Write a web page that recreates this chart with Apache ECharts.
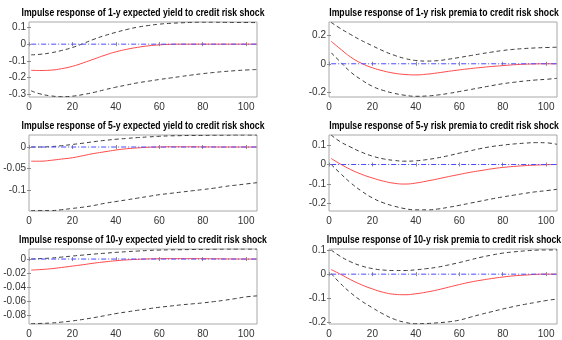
<!DOCTYPE html>
<html>
<head>
<meta charset="utf-8">
<script src="https://cdn.jsdelivr.net/npm/echarts@6/dist/echarts.min.js"></script>
<style>
html, body { margin: 0; padding: 0; background: #fff; }
#chart { width: 562px; height: 340px; }
</style>
</head>
<body>
<div id="chart"></div>
<script>
// Forecast horizon (periods after the shock)
const horizon = [1, 5, 10, 15, 20, 25, 30, 35, 40, 45, 50, 55, 60, 65, 70, 75, 80, 85, 90, 95, 100, 105];

const titles = [
  'Impulse response of 1-y expected yield to credit risk shock',
  'Impulse response of 1-y risk premia to credit risk shock',
  'Impulse response of 5-y expected yield to credit risk shock',
  'Impulse response of 5-y risk premia to credit risk shock',
  'Impulse response of 10-y expected yield to credit risk shock',
  'Impulse response of 10-y risk premia to credit risk shock'
];

const xTicks = [0, 20, 40, 60, 80, 100];

// 1-y expected yield
const ey1Irf   = [-0.157, -0.158, -0.156, -0.147, -0.133, -0.112, -0.089, -0.066, -0.046, -0.031, -0.019, -0.010, -0.004, -0.001, 0, 0, 0, 0, 0, 0, 0, 0];
const ey1Upper = [-0.064, -0.061, -0.052, -0.038, -0.020, 0.004, 0.030, 0.052, 0.071, 0.088, 0.102, 0.112, 0.120, 0.125, 0.128, 0.131, 0.132, 0.132, 0.131, 0.130, 0.130, 0.129];
const ey1Lower = [-0.280, -0.298, -0.310, -0.315, -0.312, -0.302, -0.289, -0.273, -0.258, -0.245, -0.232, -0.222, -0.212, -0.203, -0.194, -0.185, -0.177, -0.170, -0.164, -0.159, -0.155, -0.152];
const ey1YTicks = [-0.3, -0.2, -0.1, 0, 0.1];

// 1-y risk premia
const rp1Irf   = [0.158, 0.107, 0.047, 0.003, -0.028, -0.050, -0.066, -0.075, -0.078, -0.073, -0.064, -0.053, -0.043, -0.034, -0.026, -0.019, -0.013, -0.007, -0.003, -0.001, 0, 0];
const rp1Upper = [0.290, 0.250, 0.205, 0.163, 0.126, 0.090, 0.060, 0.037, 0.023, 0.019, 0.022, 0.032, 0.044, 0.057, 0.070, 0.082, 0.093, 0.101, 0.107, 0.111, 0.114, 0.116];
const rp1Lower = [0.077, 0.017, -0.058, -0.113, -0.158, -0.187, -0.207, -0.221, -0.228, -0.226, -0.219, -0.208, -0.195, -0.181, -0.167, -0.153, -0.140, -0.130, -0.121, -0.114, -0.109, -0.102];
const rp1YTicks = [-0.2, 0, 0.2];

// 5-y expected yield
const ey5Irf   = [-0.033, -0.033, -0.031, -0.028, -0.025, -0.020, -0.015, -0.011, -0.007, -0.004, -0.002, -0.0005, 0, 0.0005, 0.0005, 0.0005, 0.0003, 0.0002, 0, 0, 0, 0];
const ey5Upper = [0, 0, 0.001, 0.003, 0.006, 0.009, 0.0125, 0.0155, 0.018, 0.020, 0.022, 0.0235, 0.025, 0.026, 0.0265, 0.027, 0.027, 0.0275, 0.0275, 0.028, 0.028, 0.028];
const ey5Lower = [-0.148, -0.148, -0.148, -0.146, -0.143, -0.140, -0.136, -0.131, -0.127, -0.123, -0.119, -0.115, -0.111, -0.108, -0.105, -0.102, -0.099, -0.096, -0.092, -0.089, -0.086, -0.083];
const ey5YTicks = [-0.1, -0.05, 0];

// 5-y risk premia
const rp5Irf   = [0.031, 0.004, -0.026, -0.050, -0.069, -0.085, -0.096, -0.100, -0.095, -0.085, -0.074, -0.062, -0.051, -0.040, -0.031, -0.022, -0.015, -0.010, -0.006, -0.003, -0.001, 0];
const rp5Upper = [0.151, 0.118, 0.089, 0.063, 0.043, 0.029, 0.021, 0.017, 0.019, 0.025, 0.034, 0.045, 0.058, 0.070, 0.082, 0.092, 0.099, 0.105, 0.109, 0.112, 0.111, 0.103];
const rp5Lower = [0, -0.043, -0.094, -0.136, -0.171, -0.196, -0.213, -0.226, -0.232, -0.232, -0.228, -0.219, -0.209, -0.198, -0.187, -0.176, -0.166, -0.157, -0.148, -0.140, -0.134, -0.127];
const rp5YTicks = [-0.2, -0.1, 0, 0.1];

// 10-y expected yield
const ey10Irf   = [-0.0157, -0.0150, -0.0138, -0.0120, -0.0100, -0.0080, -0.0058, -0.0040, -0.0024, -0.0012, -0.0004, 0.0002, 0.0005, 0.0006, 0.0006, 0.0006, 0.0005, 0.0004, 0.0002, 0.0001, 0, 0];
const ey10Upper = [0, 0.0006, 0.0014, 0.0028, 0.0043, 0.0057, 0.0071, 0.0083, 0.0095, 0.0105, 0.0114, 0.0122, 0.0128, 0.0131, 0.0133, 0.0136, 0.0138, 0.0140, 0.0142, 0.0143, 0.0143, 0.0143];
const ey10Lower = [-0.0919, -0.0916, -0.0910, -0.0897, -0.0880, -0.0858, -0.0833, -0.0805, -0.0776, -0.0752, -0.0729, -0.0707, -0.0686, -0.0669, -0.0652, -0.0638, -0.0624, -0.0606, -0.0586, -0.0563, -0.0538, -0.0524];
const ey10YTicks = [-0.08, -0.06, -0.04, -0.02, 0];

// 10-y risk premia
const rp10Irf   = [0.019, 0.001, -0.023, -0.044, -0.061, -0.075, -0.083, -0.085, -0.081, -0.074, -0.065, -0.054, -0.043, -0.033, -0.025, -0.018, -0.012, -0.007, -0.004, -0.001, 0, 0];
const rp10Upper = [0.100, 0.075, 0.051, 0.034, 0.023, 0.017, 0.015, 0.015, 0.018, 0.023, 0.029, 0.038, 0.048, 0.059, 0.070, 0.079, 0.087, 0.092, 0.096, 0.099, 0.100, 0.100];
const rp10Lower = [0.003, -0.036, -0.077, -0.111, -0.139, -0.165, -0.186, -0.199, -0.205, -0.204, -0.201, -0.197, -0.190, -0.178, -0.166, -0.155, -0.144, -0.134, -0.125, -0.117, -0.109, -0.103];
const rp10YTicks = [-0.2, -0.1, 0, 0.1];

// Zero reference line
const zeroLevel = 0;

const panels = [
  { irf: ey1Irf,  upper: ey1Upper,  lower: ey1Lower,  yTicks: ey1YTicks,  yMin: -0.317, yMax: 0.133 },
  { irf: rp1Irf,  upper: rp1Upper,  lower: rp1Lower,  yTicks: rp1YTicks,  yMin: -0.233, yMax: 0.293 },
  { irf: ey5Irf,  upper: ey5Upper,  lower: ey5Lower,  yTicks: ey5YTicks,  yMin: -0.149, yMax: 0.028 },
  { irf: rp5Irf,  upper: rp5Upper,  lower: rp5Lower,  yTicks: rp5YTicks,  yMin: -0.238, yMax: 0.151 },
  { irf: ey10Irf, upper: ey10Upper, lower: ey10Lower, yTicks: ey10YTicks, yMin: -0.0924, yMax: 0.0143 },
  { irf: rp10Irf, upper: rp10Upper, lower: rp10Lower, yTicks: rp10YTicks, yMin: -0.206, yMax: 0.104 }
];

// Panel boxes in pixels (3 rows x 2 columns)
const colLeft = [29, 329];
const colWidth = [228, 228];
const rowTop = [22, 135, 249];
const rowHeight = [75, 76, 75];

const FONT = '"Liberation Sans", Arial, sans-serif';
const TITLE_FONT = 'bold 11.5px "Liberation Sans", Arial, sans-serif';
const TITLE_WIDTH = 243;   // rendered width of the first title line
const BOX = '#a8a8a8';
const TICK = '#8a8a8a';
const LABEL = '#333';

// Titles use a condensed look: squeeze horizontally to the target width
const measureCtx = document.createElement('canvas').getContext('2d');
measureCtx.font = TITLE_FONT;
const titleScale = TITLE_WIDTH / measureCtx.measureText(titles[0]).width;

const grids = [], xAxes = [], yAxes = [], series = [], texts = [];

panels.forEach((p, i) => {
  const col = i % 2, row = Math.floor(i / 2);
  const left = colLeft[col], top = rowTop[row], width = colWidth[col], height = rowHeight[row];
  grids.push({ left, top, width, height, show: true, borderColor: BOX, borderWidth: 1, backgroundColor: '#fff' });

  texts.push({
    type: 'text', x: left + width / 2 + (col === 1 ? 1 : 0), y: top - 9, scaleX: titleScale, silent: true,
    style: { text: titles[i], align: 'center', verticalAlign: 'middle', font: TITLE_FONT, fill: '#000' }
  });

  const xBase = {
    type: 'value', gridIndex: i, min: 0, max: 105, interval: 20,
    axisLine: { show: false }, splitLine: { show: false },
    axisTick: { inside: true, length: 2, customValues: xTicks, lineStyle: { color: TICK } }
  };
  xAxes.push(Object.assign({}, xBase, {
    position: 'bottom',
    axisLabel: { customValues: xTicks, margin: 5, fontSize: 10, color: LABEL, fontFamily: FONT }
  }));
  xAxes.push(Object.assign({}, xBase, { position: 'top', axisLabel: { show: false } }));

  const yBase = {
    type: 'value', gridIndex: i, min: p.yMin, max: p.yMax,
    axisLine: { show: false }, splitLine: { show: false },
    axisTick: { inside: true, length: 2, customValues: p.yTicks, lineStyle: { color: TICK } }
  };
  yAxes.push(Object.assign({}, yBase, {
    position: 'left',
    axisLabel: { customValues: p.yTicks, margin: 3, fontSize: 10, color: LABEL, fontFamily: FONT,
                 formatter: v => String(+v.toFixed(4)) }
  }));
  yAxes.push(Object.assign({}, yBase, { position: 'right', axisLabel: { show: false } }));

  const ax = { xAxisIndex: 2 * i, yAxisIndex: 2 * i };
  const common = { type: 'line', showSymbol: false, smooth: 0.5, silent: true, z: 2 };

  series.push(Object.assign({}, common, ax, {
    data: horizon.map((h, k) => [h, p.irf[k]]),
    lineStyle: { color: '#ff4a4a', width: 1 }
  }));
  series.push(Object.assign({}, common, ax, {
    data: horizon.map((h, k) => [h, p.upper[k]]),
    lineStyle: { color: '#3a3a3a', width: 1, type: [4, 3] }
  }));
  series.push(Object.assign({}, common, ax, {
    data: horizon.map((h, k) => [h, p.lower[k]]),
    lineStyle: { color: '#3a3a3a', width: 1, type: [4, 3] }
  }));
  series.push(Object.assign({}, common, ax, {
    smooth: false, z: 3,
    data: [[horizon[0], zeroLevel], [horizon[horizon.length - 1], zeroLevel]],
    lineStyle: { color: '#4a4aff', width: 1, type: [5, 2, 1, 2] }
  }));
});

const chart = echarts.init(document.getElementById('chart'), null, { renderer: 'canvas' });
chart.setOption({
  animation: false,
  backgroundColor: '#fff',
  grid: grids,
  xAxis: xAxes,
  yAxis: yAxes,
  series: series,
  graphic: texts
});
</script>
</body>
</html>
